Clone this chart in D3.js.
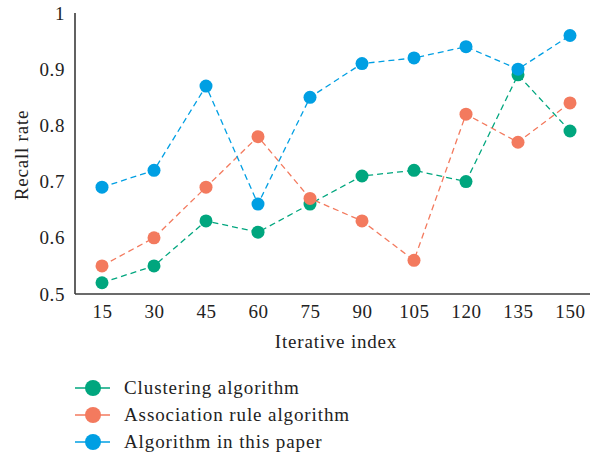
<!DOCTYPE html>
<html>
<head>
<meta charset="utf-8">
<script src="https://cdn.jsdelivr.net/npm/d3@7"></script>
<style>
  html, body { margin: 0; padding: 0; background: #fff; }
  svg { display: block; }
</style>
</head>
<body>
<script>
// data ---------------------------------------------------------------
const iterations = [15, 30, 45, 60, 75, 90, 105, 120, 135, 150];
const clustering  = [0.52, 0.55, 0.63, 0.61, 0.66, 0.71, 0.72, 0.70, 0.89, 0.79];
const association = [0.55, 0.60, 0.69, 0.78, 0.67, 0.63, 0.56, 0.82, 0.77, 0.84];
const thisPaper   = [0.69, 0.72, 0.87, 0.66, 0.85, 0.91, 0.92, 0.94, 0.90, 0.96];
const yTicks = [0.5, 0.6, 0.7, 0.8, 0.9, 1];
const seriesNames = ["Clustering algorithm", "Association rule algorithm", "Algorithm in this paper"];

const COLORS = ["#00a67e", "#f37a5e", "#009fe3"];
const FONT = "'Liberation Serif', 'DejaVu Serif', serif";
const W = 590, H = 460;

const svg = d3.select("body").append("svg")
  .attr("width", W).attr("height", H);

const x = d3.scalePoint()
  .domain(iterations)
  .range([102, 570]);

const y = d3.scaleLinear()
  .domain([0.5, 1])
  .range([294, 13]);

// axes (no tick marks, just the frame lines and labels)
const xAxis = svg.append("g")
  .attr("transform", "translate(0,294)")
  .call(d3.axisBottom(x).tickSize(0).tickPadding(11));
xAxis.select(".domain").attr("d", "M75,0H590");

const yAxis = svg.append("g")
  .attr("transform", "translate(75,0)")
  .call(d3.axisLeft(y).tickValues(yTicks).tickSize(0).tickPadding(10)
    .tickFormat(d => d === 1 ? "1" : d3.format(".1f")(d)));
yAxis.select(".domain").attr("d", "M0,294V13");

svg.selectAll(".domain")
  .attr("stroke", "#3a3a3a")
  .attr("stroke-width", 1.6);

svg.selectAll(".tick text")
  .attr("font-family", FONT)
  .attr("font-size", 19)
  .attr("letter-spacing", 0.6)
  .attr("fill", "#222");

// titles
svg.append("text")
  .attr("x", 336).attr("y", 348)
  .attr("text-anchor", "middle")
  .attr("font-family", FONT).attr("font-size", 19).attr("letter-spacing", 0.8)
  .attr("fill", "#222")
  .text("Iterative index");

svg.append("text")
  .attr("transform", "translate(28,155) rotate(-90)")
  .attr("text-anchor", "middle")
  .attr("font-family", FONT).attr("font-size", 19).attr("letter-spacing", 0.8)
  .attr("fill", "#222")
  .text("Recall rate");

// series
const series = [clustering, association, thisPaper];
const line = d3.line()
  .x((d, i) => x(iterations[i]))
  .y(d => y(d));

series.forEach((vals, s) => {
  svg.append("path")
    .datum(vals)
    .attr("d", line)
    .attr("fill", "none")
    .attr("stroke", COLORS[s])
    .attr("stroke-width", 1.3)
    .attr("stroke-dasharray", "6,4");

  svg.selectAll(".pt" + s)
    .data(vals).enter()
    .append("circle")
    .attr("class", "pt" + s)
    .attr("cx", (d, i) => x(iterations[i]))
    .attr("cy", d => y(d))
    .attr("r", 6.5)
    .attr("fill", COLORS[s]);
});

// legend
const legend = svg.append("g");
const legendY = d3.scalePoint().domain(seriesNames).range([388, 442]);

seriesNames.forEach((name, s) => {
  const ly = legendY(name);
  legend.append("line")
    .attr("x1", 75).attr("x2", 110)
    .attr("y1", ly).attr("y2", ly)
    .attr("stroke", COLORS[s])
    .attr("stroke-width", 1.3);
  legend.append("circle")
    .attr("cx", 93).attr("cy", ly)
    .attr("r", 8)
    .attr("fill", COLORS[s]);
  legend.append("text")
    .attr("x", 124).attr("y", ly)
    .attr("dy", "0.33em")
    .attr("font-family", FONT).attr("font-size", 19).attr("letter-spacing", 0.9)
    .attr("fill", "#222")
    .text(name);
});
</script>
</body>
</html>
